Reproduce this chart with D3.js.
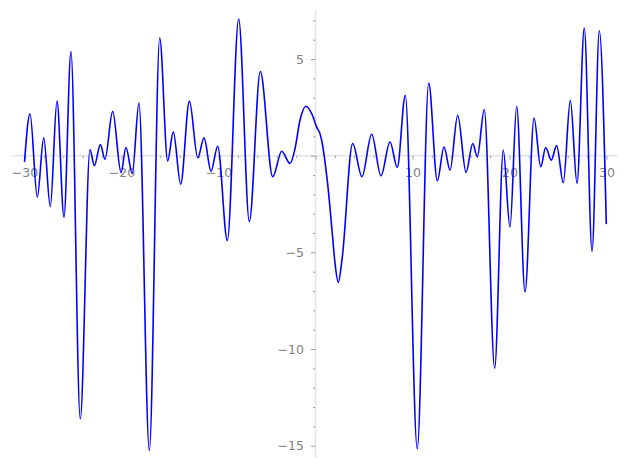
<!DOCTYPE html>
<html>
<head>
<meta charset="utf-8">
<script src="https://cdn.jsdelivr.net/npm/d3@7"></script>
<style>
  body { margin: 0; background: #fff; }
  text { font-family: "DejaVu Sans", sans-serif; }
</style>
</head>
<body>
<div class="chart"></div>
<script>
// curve values (extrema plus a few in-between points)
const xValues = [
  -30, -29.43, -28.68, -28.02, -27.34, -26.65, -25.93, -25.21, -24.25, -23.25,
  -22.8, -22.18, -21.7, -20.91, -20.05, -19.54, -18.89, -18.2, -17.13, -16.06,
  -15.24, -14.66, -13.9, -13.0, -12.14, -11.49, -10.77, -10.08, -9.09, -7.92,
  -6.82, -5.69, -4.41, -3.48, -2.63, -2.11, -1.6, -0.98, -0.39, 0.12,
  0.46, 0.7, 0.91, 1.32, 1.73, 2.01, 2.35, 2.75,
  3.83, 4.79, 5.79, 6.75, 7.68, 8.43, 9.26, 10.49, 11.67, 12.56,
  13.25, 13.87, 14.66, 15.52, 16.21, 16.68, 17.4, 18.47, 19.36, 20.05,
  20.74, 21.6, 22.53, 23.22, 23.73, 24.31, 24.86, 25.55, 26.27, 26.96,
  27.71, 28.51, 29.26, 29.98
];
const yValues = [
  -0.32, 2.17, -2.15, 0.92, -2.64, 2.82, -3.18, 5.38, -13.62, 0.32,
  -0.52, 0.57, -0.18, 2.29, -0.87, 0.42, -0.92, 2.72, -15.25, 6.09,
  -0.27, 1.23, -1.47, 2.82, -0.11, 0.92, -0.8, 0.49, -4.39, 7.06,
  -3.41, 4.35, -1.09, 0.23, -0.4, 0.37, 1.83, 2.56, 2.17, 1.48,
  1.14, 0.63, -0.06, -1.78, -4.01, -5.55, -6.55, -5.3,
  0.63, -1.09, 1.11, -1.04, 0.71, -0.61, 3.12, -15.16, 3.75, -1.3,
  0.45, -0.75, 2.09, -0.87, 0.63, -0.06, 2.39, -10.99, 0.28, -3.7,
  2.56, -7.05, 1.95, -0.58, 0.42, -0.23, 0.53, -1.4, 2.86, -1.43,
  6.6, -4.95, 6.46, -3.54
];

const xMajor = [-30, -20, -10, 0, 10, 20, 30];
const xMinor = [-28, -26, -24, -22, -18, -16, -14, -12, -8, -6, -4, -2,
  2, 4, 6, 8, 12, 14, 16, 18, 22, 24, 26, 28];
const yMajor = [5, 0, -5, -10, -15];
const yMinor = [7, 6, 4, 3, 2, 1, -1, -2, -3, -4, -6, -7, -8, -9,
  -11, -12, -13, -14];
const xExtent = [-31.2, 31.1];
const yExtent = [-15.68, 7.49];

const width = 627, height = 470;

const svg = d3.select(".chart")
  .append("svg")
  .attr("width", width)
  .attr("height", height);

const x = d3.scaleLinear().domain([-30, 30]).range([24.5, 606.5]);
const y = d3.scaleLinear().domain([-15, 5]).range([445.7, 59]);

const tickColor = "#999";
const labelColor = "#808080";

// spines through the origin
svg.append("line")
  .attr("x1", x(xExtent[0])).attr("x2", x(xExtent[1]))
  .attr("y1", y(0)).attr("y2", y(0))
  .attr("stroke", "#e4e4e4").attr("stroke-width", 1.6);
svg.append("line")
  .attr("x1", x(0)).attr("x2", x(0))
  .attr("y1", y(yExtent[1])).attr("y2", y(yExtent[0]))
  .attr("stroke", "#e4e4e4").attr("stroke-width", 1.6);

function styleAxis(g) {
  g.select(".domain").remove();
  g.selectAll(".tick line").attr("stroke", tickColor).attr("stroke-width", 0.9);
  g.selectAll(".tick text")
    .attr("fill", labelColor)
    .style("font-size", "12.5px")
    .style("font-family", "'DejaVu Sans', sans-serif");
}

// x ticks
svg.append("g")
  .attr("transform", `translate(0,${y(0)})`)
  .call(d3.axisBottom(x).tickValues(xMinor).tickSize(2.5).tickFormat(""))
  .call(styleAxis);
svg.append("g")
  .attr("transform", `translate(0,${y(0)})`)
  .call(d3.axisBottom(x).tickValues(xMajor).tickSize(4).tickPadding(8)
    .tickFormat(d => d === 0 ? "" : d3.format("d")(d)))
  .call(styleAxis);

// y ticks
svg.append("g")
  .attr("transform", `translate(${x(0)},0)`)
  .call(d3.axisLeft(y).tickValues(yMinor).tickSize(2.5).tickFormat(""))
  .call(styleAxis);
svg.append("g")
  .attr("transform", `translate(${x(0)},0)`)
  .call(d3.axisLeft(y).tickValues(yMajor).tickSize(4.5).tickPadding(7)
    .tickFormat(d => d === 0 ? "" : d3.format("d")(d)))
  .call(styleAxis);

// the curve
const line = d3.line()
  .x((d, i) => x(xValues[i]))
  .y(d => y(d))
  .curve(d3.curveMonotoneX);

svg.append("path")
  .datum(yValues)
  .attr("fill", "none")
  .attr("stroke", "#0000ff")
  .attr("stroke-width", 1.6)
  .attr("d", line);
</script>
</body>
</html>
